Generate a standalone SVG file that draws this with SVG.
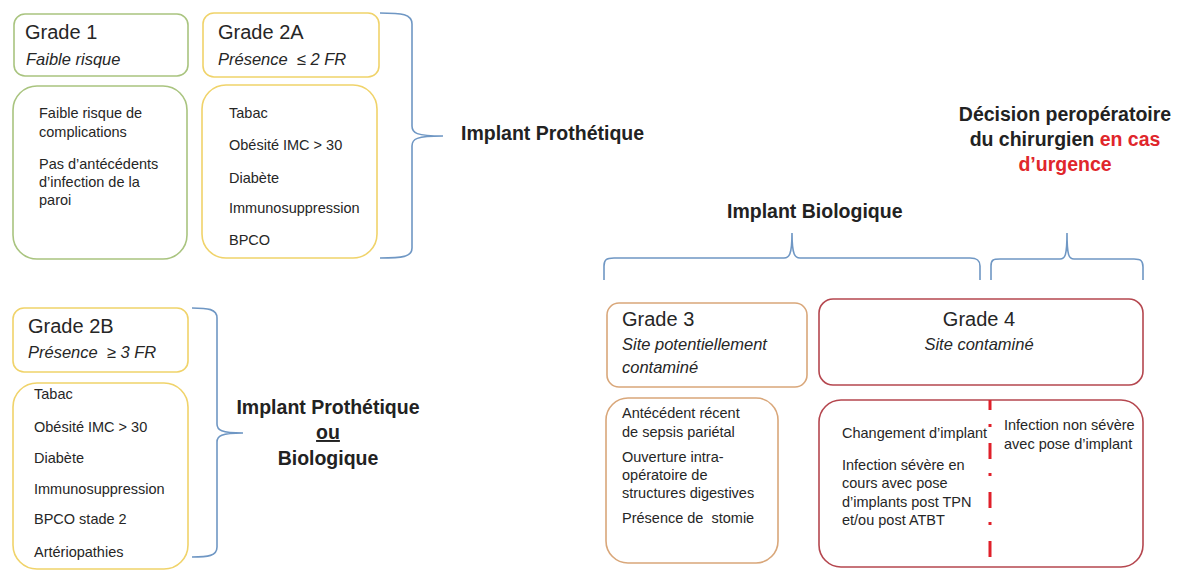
<svg xmlns="http://www.w3.org/2000/svg" width="1180" height="574" viewBox="0 0 1180 574">
<style>
.bg{fill:#ffffff}
.box{fill:#ffffff;stroke-width:1.6}
.g{stroke:#a9c47f}
.y{stroke:#f0d36a}
.o{stroke:#d9a77a}
.r{stroke:#b5474f}
.t{font-family:"Liberation Sans",Arial,sans-serif;fill:#262626}
.h{font-size:20px}
.i{font-size:16.5px;font-style:italic}
.b{font-size:14.5px}
.lab{font-family:"Liberation Sans",Arial,sans-serif;font-weight:bold;font-size:19.5px;fill:#222222}
.red{fill:#e0262b}
.brace{fill:none;stroke:#6f97c4;stroke-width:1.6}
</style>
<rect class="bg" x="0" y="0" width="1180" height="574"/>

<g id="grade1">
<rect class="box g" x="14" y="14" width="174" height="62" rx="11"/>
<text class="t h" x="25" y="39">Grade 1</text>
<text class="t i" x="26" y="65">Faible risque</text>
<rect class="box g" x="13" y="86" width="174" height="173" rx="24"/>
<text class="t b" x="39" y="118">Faible risque de</text>
<text class="t b" x="39" y="137">complications</text>
<text class="t b" x="39" y="169">Pas d’antécédents</text>
<text class="t b" x="39" y="187">d’infection de la</text>
<text class="t b" x="39" y="205">paroi</text>
</g>

<g id="grade2a">
<rect class="box y" x="203" y="13" width="176" height="64" rx="11"/>
<text class="t h" x="218" y="39">Grade 2A</text>
<text class="t i" x="218" y="65">Présence&#160; ≤ 2 FR</text>
<rect class="box y" x="202" y="85" width="175" height="173" rx="24"/>
<text class="t b" x="229" y="118">Tabac</text>
<text class="t b" x="229" y="150">Obésité IMC &gt; 30</text>
<text class="t b" x="229" y="183">Diabète</text>
<text class="t b" x="229" y="213">Immunosuppression</text>
<text class="t b" x="229" y="245">BPCO</text>
</g>

<g id="grade2b">
<rect class="box y" x="13" y="308" width="175" height="64" rx="11"/>
<text class="t h" x="28" y="333">Grade 2B</text>
<text class="t i" x="28" y="358">Présence&#160; ≥ 3 FR</text>
<rect class="box y" x="13" y="383" width="175" height="186" rx="24"/>
<text class="t b" x="34" y="399">Tabac</text>
<text class="t b" x="34" y="432">Obésité IMC &gt; 30</text>
<text class="t b" x="34" y="463">Diabète</text>
<text class="t b" x="34" y="494">Immunosuppression</text>
<text class="t b" x="34" y="524">BPCO stade 2</text>
<text class="t b" x="34" y="557">Artériopathies</text>
</g>

<g id="grade3">
<rect class="box o" x="607" y="303" width="200" height="84" rx="12"/>
<text class="t h" x="622" y="326">Grade 3</text>
<text class="t i" x="622" y="350">Site potentiellement</text>
<text class="t i" x="622" y="373">contaminé</text>
<rect class="box o" x="606" y="398" width="172" height="165" rx="22"/>
<text class="t b" x="622" y="418">Antécédent récent</text>
<text class="t b" x="622" y="437">de sepsis pariétal</text>
<text class="t b" x="622" y="462">Ouverture intra-</text>
<text class="t b" x="622" y="480">opératoire de</text>
<text class="t b" x="622" y="498">structures digestives</text>
<text class="t b" x="622" y="523">Présence de&#160; stomie</text>
</g>

<g id="grade4">
<rect class="box r" x="819" y="299" width="324" height="86" rx="14"/>
<text class="t h" x="979" y="326" text-anchor="middle">Grade 4</text>
<text class="t i" x="979" y="350" text-anchor="middle">Site contaminé</text>
<rect class="box r" x="819" y="400" width="324" height="167" rx="22"/>
<line x1="990" y1="400" x2="990" y2="567" stroke="#e0202a" stroke-width="3" stroke-dasharray="16 14 3 16" stroke-dashoffset="6"/>
<text class="t b" x="842" y="438">Changement d’implant</text>
<text class="t b" x="842" y="470">Infection sévère en</text>
<text class="t b" x="842" y="488">cours avec pose</text>
<text class="t b" x="842" y="507">d’implants post TPN</text>
<text class="t b" x="842" y="525">et/ou post ATBT</text>
<text class="t b" x="1004" y="430">Infection non sévère</text>
<text class="t b" x="1004" y="449">avec pose d’implant</text>
</g>

<g id="connectors">
<path class="brace" d="M380,13 C402,13 412,14 412,24 L412,126 C412,133 416,136 443,136 M443,136 C416,136 412,139 412,146 L412,248 C412,257 402,258 380,258"/>
<path class="brace" d="M192,308 C208,308 217,309 217,318 L217,424 C217,430 221,433 243,433 M243,433 C221,433 217,436 217,442 L217,547 C217,556 208,557 192,557"/>
<path class="brace" d="M604,280 L604,266 C604,260 606,258 614,258 L784,258 C789,258 792,255 792,233 M792,233 C792,255 795,258 800,258 L970,258 C977,258 980,260 980,266 L980,280"/>
<path class="brace" d="M991,280 L991,266 C991,260 993,259 1000,259 L1060,259 C1065,259 1067,256 1067,233 M1067,233 C1067,256 1069,259 1074,259 L1134,259 C1141,259 1143,261 1143,267 L1143,280"/>
</g>

<g id="labels">
<text class="lab" x="461" y="140">Implant Prothétique</text>
<text class="lab" x="727" y="218">Implant Biologique</text>
<text class="lab" x="1065" y="121" text-anchor="middle">Décision peropératoire</text>
<text class="lab" x="1065" y="146" text-anchor="middle">du chirurgien <tspan class="red">en cas</tspan></text>
<text class="lab red" x="1065" y="171" text-anchor="middle">d’urgence</text>
<text class="lab" x="328" y="414" text-anchor="middle">Implant Prothétique</text>
<text class="lab" x="328" y="439" text-anchor="middle" text-decoration="underline">ou</text>
<text class="lab" x="328" y="465" text-anchor="middle">Biologique</text>
</g>
</svg>
